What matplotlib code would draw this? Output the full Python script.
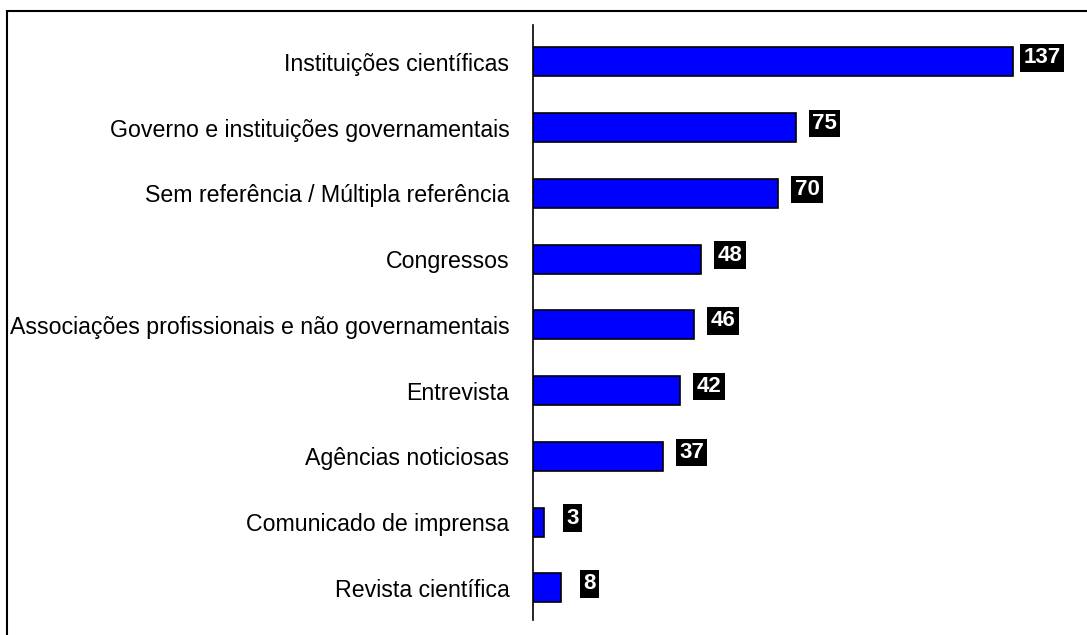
import matplotlib.pyplot as plt
from matplotlib.patches import Rectangle

# categories listed top to bottom
categories = [
    "Instituições científicas",
    "Governo e instituições governamentais",
    "Sem referência / Múltipla referência",
    "Congressos",
    "Associações profissionais e não governamentais",
    "Entrevista",
    "Agências noticiosas",
    "Comunicado de imprensa",
    "Revista científica",
]
counts = [137, 75, 70, 48, 46, 42, 37, 3, 8]

plt.rcParams['font.family'] = ['Liberation Sans', 'DejaVu Sans']

W, H = 1087, 635
fig = plt.figure(figsize=(W / 100, H / 100), dpi=100)

# frame around the chart (right and bottom edges fall outside the image)
fig.patches.append(Rectangle((7 / W, -0.05), 1.2, 1 - 11 / H + 0.05,
                             transform=fig.transFigure, fill=False,
                             edgecolor='black', linewidth=1.5))

ax = fig.add_axes([533 / W, 1 - 620 / H, (1085 - 533) / W, (620 - 25) / H])

n = len(categories)
ypos = list(range(n - 1, -1, -1))
ax.barh(ypos, counts, height=0.44, color='#0000ff', edgecolor='black',
        linewidth=1.2)

ax.set_xlim(0, (1085 - 533) / 3.505)
ax.set_ylim(-0.49, n - 1 + 0.56)
ax.set_yticks(ypos)
ax.set_yticklabels(categories, fontsize=16.7)
ax.tick_params(axis='y', length=0, pad=17)
ax.set_xticks([])
for side in ['top', 'right', 'bottom']:
    ax.spines[side].set_visible(False)
ax.spines['left'].set_linewidth(1.2)

# value tags: white bold numbers on black boxes
for y, v in zip(ypos, counts):
    ax.text(v + 8.2, y + 0.06, str(v), ha='center', va='center',
            color='white', fontweight='bold', fontsize=16,
            bbox=dict(boxstyle='square,pad=0.15', facecolor='black',
                      edgecolor='none'))

fig.savefig('out.png', dpi=100, facecolor='white')
